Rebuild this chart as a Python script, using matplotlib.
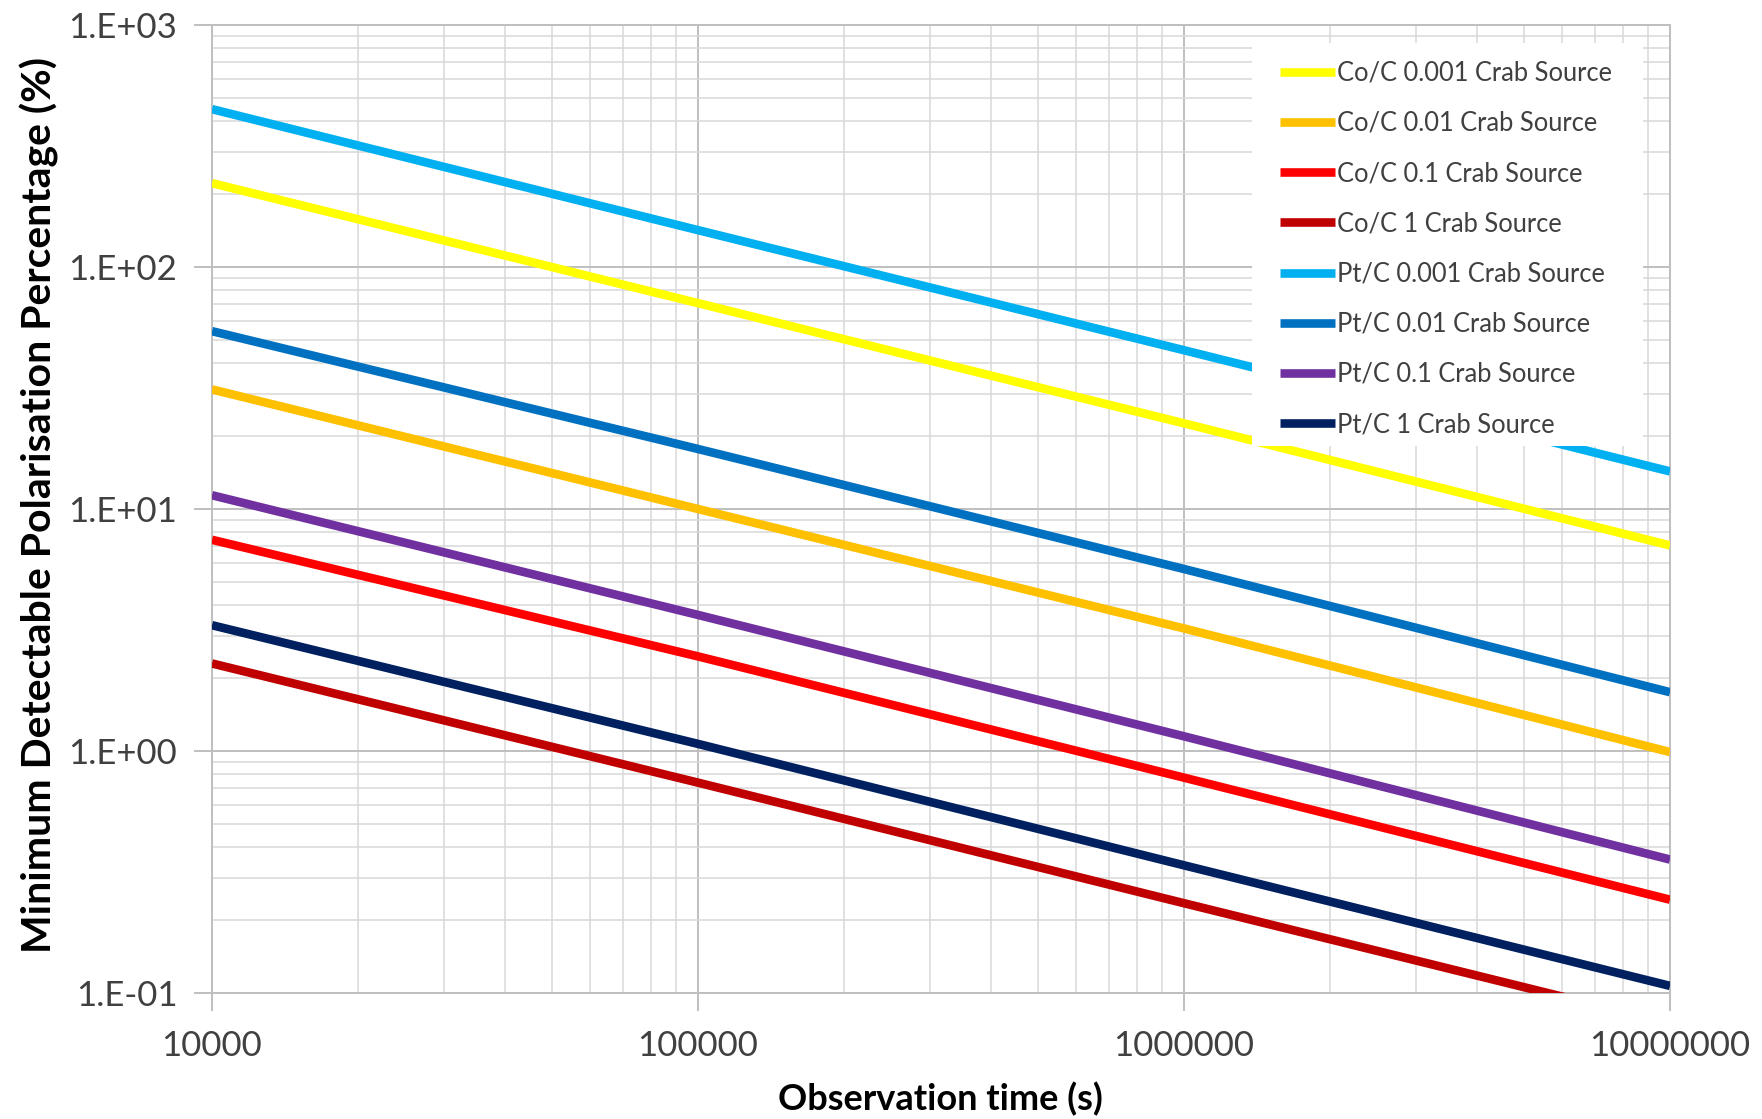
import numpy as np
import matplotlib.pyplot as plt
from matplotlib.ticker import FixedLocator, LogLocator, NullFormatter
from matplotlib.patches import Rectangle

plt.rcParams['font.family'] = ['Lato', 'DejaVu Sans']

# observation times (s)
obs_time = [1e4, 1e5, 1e6, 1e7]

# minimum detectable polarisation (%)
co_0001 = [222, 70.9, 22.6, 7.07]
co_001 = [31.2, 10.0, 3.21, 0.99]
co_01 = [7.46, 2.46, 0.776, 0.243]
co_1 = [2.30, 0.74, 0.235, 0.075]
pt_0001 = [449, 142, 45.3, 14.3]
pt_001 = [54.3, 17.7, 5.65, 1.75]
pt_01 = [11.4, 3.65, 1.15, 0.356]
pt_1 = [3.31, 1.07, 0.337, 0.107]

labels = ["Co/C 0.001 Crab Source", "Co/C 0.01 Crab Source", "Co/C 0.1 Crab Source",
          "Co/C 1 Crab Source", "Pt/C 0.001 Crab Source", "Pt/C 0.01 Crab Source",
          "Pt/C 0.1 Crab Source", "Pt/C 1 Crab Source"]
series = [co_0001, co_001, co_01, co_1, pt_0001, pt_001, pt_01, pt_1]
colors = ["#FFFF00", "#FFC000", "#FF0000", "#C00000",
          "#00B0F0", "#0070C0", "#7030A0", "#002060"]

y_ticks = [0.1, 1, 10, 100, 1000]
y_tick_labels = ["1.E-01", "1.E+00", "1.E+01", "1.E+02", "1.E+03"]
x_ticks = [1e4, 1e5, 1e6, 1e7]
x_tick_labels = ["10000", "100000", "1000000", "10000000"]

fig = plt.figure(figsize=(17.62, 11.19), dpi=100)
ax = fig.add_axes([212 / 1762, 1 - 993 / 1119, 1458 / 1762, 968 / 1119])

for y, lab, c in zip(series, labels, colors):
    ax.plot(obs_time, y, color=c, lw=6.2, label=lab, solid_capstyle="butt", zorder=3)

ax.set_xscale("log")
ax.set_yscale("log")
ax.set_xlim(1e4, 1e7)
ax.set_ylim(0.1, 1000)

ax.xaxis.set_major_locator(FixedLocator(x_ticks))
ax.set_xticklabels(x_tick_labels)
ax.yaxis.set_major_locator(FixedLocator(y_ticks))
ax.set_yticklabels(y_tick_labels)
ax.xaxis.set_minor_locator(LogLocator(base=10, subs=np.arange(2, 10), numticks=20))
ax.yaxis.set_minor_locator(LogLocator(base=10, subs=np.arange(2, 10), numticks=20))
ax.xaxis.set_minor_formatter(NullFormatter())
ax.yaxis.set_minor_formatter(NullFormatter())

ax.grid(True, which="major", color="#bfbfbf", lw=1.4, zorder=0)
ax.grid(True, which="minor", color="#d9d9d9", lw=1.1, zorder=0)
ax.set_axisbelow(True)
ax.tick_params(which="major", length=13, width=1.4, color="#bfbfbf",
               labelsize=25, labelcolor="#404040")
ax.tick_params(axis="y", which="major", pad=12)
ax.tick_params(axis="x", which="major", pad=14)
ax.tick_params(which="minor", length=0)
for s in ax.spines.values():
    s.set_color("#bfbfbf")
    s.set_linewidth(1.4)

# white legend panel
ax.add_patch(Rectangle((0.713, 0.565), 0.2685, 0.416, transform=ax.transAxes,
                       facecolor="white", edgecolor="none", zorder=4))
leg = ax.legend(loc="upper left", bbox_to_anchor=(0.7325, 0.963), frameon=False,
                fontsize=18.4, handlelength=2.15, handletextpad=0.1, labelspacing=0.985,
                borderpad=0, borderaxespad=0)
leg.set_zorder(5)
for t in leg.get_texts():
    t.set_color("#404040")

fig.text(39 / 1762, 0.549, "Minimum Detectable Polarisation Percentage (%)",
         rotation=90, ha="center", va="center", fontsize=29.5, fontweight="bold")
fig.text(940 / 1762, 1 - 1099 / 1119, "Observation time (s)",
         ha="center", va="center", fontsize=26, fontweight="bold")

fig.savefig("out.png", dpi=100)
